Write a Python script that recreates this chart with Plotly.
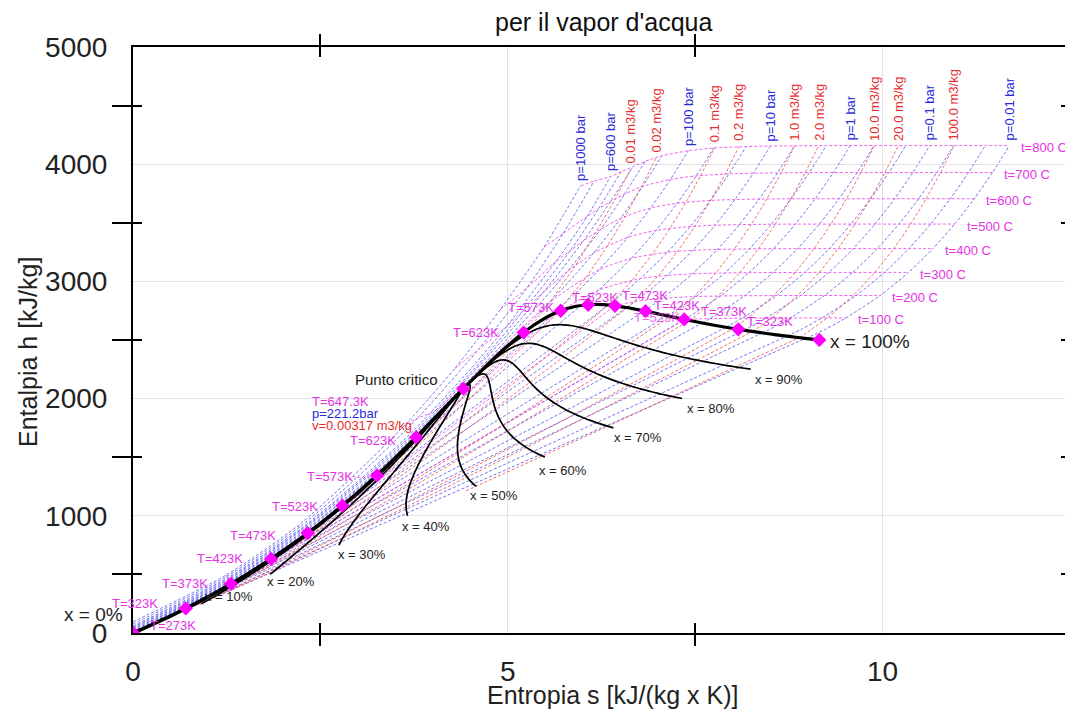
import plotly.graph_objects as go

# ---------------- saturation table (t in C) ----------------
sat_t = [0.01, 5, 10, 15, 20, 25, 30, 35, 40, 45, 50, 60, 70, 80, 90, 100, 110, 120, 130, 140,
         150, 160, 170, 180, 190, 200, 210, 220, 230, 240, 250, 260, 270, 280, 290, 300, 310,
         320, 330, 340, 350, 360, 370, 373.95]
sat_hf = [0.0, 21.02, 42.02, 62.98, 83.91, 104.83, 125.73, 146.63, 167.53, 188.44, 209.34, 251.18,
          293.07, 335.02, 377.04, 419.17, 461.42, 503.81, 546.38, 589.16, 632.18, 675.47, 719.08,
          763.05, 807.43, 852.26, 897.61, 943.55, 990.14, 1037.5, 1085.7, 1135.0, 1185.3, 1236.9,
          1290.0, 1344.8, 1402.0, 1462.2, 1526.2, 1594.5, 1670.9, 1761.9, 1890.7, 2084.3]
sat_hg = [2500.9, 2510.1, 2519.2, 2528.4, 2537.4, 2546.5, 2555.6, 2564.6, 2573.5, 2582.4, 2591.3,
          2608.8, 2626.1, 2643.0, 2659.6, 2675.6, 2691.1, 2705.9, 2720.1, 2733.5, 2745.9, 2757.4,
          2767.9, 2777.2, 2785.3, 2792.0, 2797.3, 2801.0, 2802.9, 2802.9, 2800.9, 2796.6, 2789.7,
          2779.9, 2766.7, 2749.6, 2727.9, 2700.6, 2666.0, 2621.8, 2563.6, 2481.6, 2334.5, 2084.3]
sat_sf = [0.0, 0.0763, 0.1511, 0.2245, 0.2965, 0.3672, 0.4368, 0.5051, 0.5724, 0.6386, 0.7038,
          0.8313, 0.9551, 1.0756, 1.1929, 1.3072, 1.4188, 1.5279, 1.6346, 1.7392, 1.8418, 1.9426,
          2.0417, 2.1392, 2.2355, 2.3305, 2.4245, 2.5177, 2.6101, 2.7020, 2.7935, 2.8849, 2.9765,
          3.0685, 3.1612, 3.2552, 3.3510, 3.4494, 3.5518, 3.6601, 3.7784, 3.9167, 4.1112, 4.4070]
sat_sg = [9.1556, 9.0249, 8.8999, 8.7803, 8.6661, 8.5567, 8.4520, 8.3517, 8.2556, 8.1633, 8.0748,
          7.9082, 7.7540, 7.6111, 7.4781, 7.3541, 7.2381, 7.1291, 7.0264, 6.9293, 6.8371, 6.7491,
          6.6650, 6.5841, 6.5059, 6.4302, 6.3563, 6.2840, 6.2128, 6.1423, 6.0721, 6.0016, 5.9304,
          5.8579, 5.7834, 5.7059, 5.6244, 5.5372, 5.4422, 5.3356, 5.2110, 5.0536, 4.8012, 4.4070]
sat_vf = [0.001000, 0.001000, 0.001000, 0.001001, 0.001002, 0.001003, 0.001004, 0.001006, 0.001008,
          0.001010, 0.001012, 0.001017, 0.001023, 0.001029, 0.001036, 0.001043, 0.001052, 0.001060,
          0.001070, 0.001080, 0.001091, 0.001102, 0.001114, 0.001127, 0.001141, 0.001157, 0.001173,
          0.001190, 0.001209, 0.001229, 0.001252, 0.001276, 0.001303, 0.001333, 0.001366, 0.001404,
          0.001448, 0.001499, 0.001561, 0.001638, 0.001741, 0.001895, 0.002217, 0.003106]
sat_vg = [206.00, 147.03, 106.32, 77.885, 57.762, 43.340, 32.879, 25.205, 19.515, 15.251, 12.026,
          7.6670, 5.0396, 3.4053, 2.3593, 1.6720, 1.2094, 0.89133, 0.66808, 0.50850, 0.39248,
          0.30680, 0.24259, 0.19384, 0.15636, 0.12721, 0.10441, 0.08619, 0.07158, 0.05976, 0.05008,
          0.04220, 0.03564, 0.03017, 0.02557, 0.02167, 0.01835, 0.01549, 0.01300, 0.01080, 0.00881,
          0.00695, 0.00495, 0.003106]

# ---------------- isobars: (t [C] or 'Ts' for saturation, s, h) ----------------
isobar_0_01 = [('Ts', 0.1059, 29.3), ('Ts', 8.9749, 2513.7), (50, 9.2368, 2592.2), (100, 9.5106, 2688.3),
               (200, 9.9665, 2879.8), (300, 10.3440, 3076.6), (400, 10.6704, 3279.7), (500, 10.9605, 3489.2),
               (600, 11.2235, 3705.5), (700, 11.4655, 3928.8), (800, 11.6908, 4159.1)]
isobar_0_02 = [('Ts', 0.2606, 73.4), ('Ts', 8.7237, 2532.9), (50, 8.9169, 2592.1), (100, 9.1907, 2688.0),
               (200, 9.6466, 2879.7), (300, 10.0241, 3076.6), (400, 10.3505, 3279.7), (500, 10.6406, 3489.2),
               (600, 10.9036, 3705.5), (700, 11.1456, 3928.8), (800, 11.3709, 4159.1)]
isobar_0_05 = [('Ts', 0.4763, 137.75), ('Ts', 8.3938, 2560.7), (50, 8.4940, 2592.1), (100, 8.7678, 2687.8),
               (200, 9.2237, 2879.6), (300, 9.6012, 3076.5), (400, 9.9276, 3279.6), (500, 10.2177, 3489.1),
               (600, 10.4807, 3705.4), (700, 10.7227, 3928.7), (800, 10.9480, 4159.0)]
isobar_0_1 = [('Ts', 0.6492, 191.81), ('Ts', 8.1488, 2583.9), (50, 8.1741, 2592.0), (100, 8.4479, 2687.5),
              (200, 8.9038, 2879.5), (300, 9.2813, 3076.5), (400, 9.6077, 3279.6), (500, 9.8978, 3489.1),
              (600, 10.1608, 3705.4), (700, 10.4028, 3928.7), (800, 10.6281, 4159.0)]
isobar_0_2 = [('Ts', 0.8320, 251.42), ('Ts', 7.9073, 2608.9), (100, 8.1263, 2686.2), (200, 8.5839, 2879.0),
              (300, 8.9614, 3076.3), (400, 9.2878, 3279.4), (500, 9.5779, 3489.0), (600, 9.8409, 3705.3),
              (700, 10.0829, 3928.6), (800, 10.3082, 4158.9)]
isobar_0_5 = [('Ts', 1.0912, 340.54), ('Ts', 7.5931, 2645.2), (100, 7.6953, 2682.4), (200, 8.1592, 2877.7),
              (300, 8.5380, 3075.8), (400, 8.8649, 3279.1), (500, 9.1551, 3488.7), (600, 9.4182, 3705.2),
              (700, 9.6602, 3928.5), (800, 9.8855, 4158.8)]
isobar_1 = [('Ts', 1.3028, 417.51), ('Ts', 7.3589, 2674.9), (100, 7.3611, 2675.8), (200, 7.8356, 2875.5),
            (300, 8.2172, 3074.5), (400, 8.5452, 3278.9), (500, 8.8362, 3488.7), (600, 9.0999, 3705.6),
            (700, 9.3424, 3928.9), (800, 9.5682, 4159.2)]
isobar_2 = [('Ts', 1.5302, 504.7), ('Ts', 7.1270, 2706.3), (150, 7.2810, 2769.1), (200, 7.5081, 2870.7),
            (300, 7.8941, 3072.1), (400, 8.2236, 3277.0), (500, 8.5153, 3487.7), (600, 8.7793, 3704.8),
            (700, 9.0221, 3928.2), (800, 9.2479, 4158.4)]
isobar_5 = [('Ts', 1.8604, 640.09), ('Ts', 6.8207, 2748.1), (200, 7.0610, 2855.8), (250, 7.2725, 2961.0),
            (300, 7.4614, 3064.6), (400, 7.7956, 3272.4), (500, 8.0893, 3484.5), (600, 8.3544, 3702.5),
            (700, 8.5978, 3926.4), (800, 8.8240, 4157.0)]
isobar_10 = [('Ts', 2.1381, 762.51), ('Ts', 6.5850, 2777.1), (200, 6.6956, 2828.3), (250, 6.9265, 2943.1),
             (300, 7.1246, 3051.6), (400, 7.4670, 3264.5), (500, 7.7642, 3479.1), (600, 8.0311, 3698.6),
             (700, 8.2755, 3923.0), (800, 8.5024, 4154.8)]
isobar_20 = [('Ts', 2.4470, 908.47), ('Ts', 6.3390, 2798.3), (250, 6.5475, 2903.3), (300, 6.7684, 3024.2),
             (400, 7.1292, 3248.4), (500, 7.4337, 3468.3), (600, 7.7043, 3690.7), (700, 7.9509, 3917.2),
             (800, 8.1791, 4150.1)]
isobar_50 = [(0, 0.0001, 5.0), (100, 1.3038, 422.7), (200, 2.3258, 853.8), ('Ts', 2.9207, 1154.5),
             ('Ts', 5.9737, 2794.2), (300, 6.2110, 2925.7), (400, 6.6483, 3196.7), (500, 6.9781, 3434.7),
             (600, 7.2605, 3666.9), (700, 7.5136, 3900.3), (800, 7.7458, 4137.7)]
isobar_100 = [(0, 0.0003, 10.1), (100, 1.3000, 426.5), (200, 2.3176, 856.0), (300, 3.2275, 1343.0),
              ('Ts', 3.3603, 1407.8), ('Ts', 5.6160, 2725.5), (350, 5.9459, 2924.0), (400, 6.2141, 3097.5),
              (500, 6.5995, 3375.1), (600, 6.9045, 3625.8), (700, 7.1693, 3870.0), (800, 7.4085, 4114.5)]
isobar_200 = [(0, 0.0, 20.0), (100, 1.29, 435.0), (200, 2.30, 864.0), (300, 3.20, 1334.0), (350, 3.64, 1596.0),
              ('Ts', 4.0156, 1827.2), ('Ts', 4.9314, 2411.4), (400, 5.5525, 2816.9), (450, 5.9043, 3061.7),
              (500, 6.1446, 3241.2), (600, 6.5075, 3539.0), (700, 6.7990, 3810.5), (800, 7.0534, 4071.8)]
isobar_300 = [(0, 0.0, 30.0), (100, 1.28, 443.0), (200, 2.28, 871.0), (300, 3.17, 1330.0), (350, 3.54, 1548.0),
              (375, 3.93, 1792.0), (400, 4.476, 2153.0), (450, 5.442, 2821.0), (500, 5.796, 3085.0),
              (600, 6.237, 3443.0), (700, 6.558, 3745.0), (800, 6.831, 4024.0)]
isobar_400 = [(0, 0.0, 40.0), (100, 1.27, 452.0), (200, 2.26, 878.0), (300, 3.12, 1327.0), (350, 3.50, 1540.0),
              (375, 3.829, 1742.6), (400, 4.1145, 1931.4), (450, 4.9447, 2511.8), (500, 5.4744, 2906.5),
              (600, 6.01, 3346.4), (700, 6.37, 3681.0), (800, 6.67, 3978.0)]
isobar_500 = [(0, 0.0, 49.0), (100, 1.265, 461.0), (200, 2.25, 885.0), (300, 3.085, 1324.0), (375, 3.76, 1715.0),
              (400, 4.03, 1895.0), (450, 4.70, 2360.0), (500, 5.22, 2760.0), (600, 5.83, 3260.0),
              (700, 6.21, 3620.0), (800, 6.51, 3935.0)]
isobar_600 = [(0, 0.0, 59.0), (100, 1.26, 470.0), (200, 2.24, 891.0), (300, 3.05, 1322.0), (375, 3.70, 1700.0),
              (400, 3.96, 1874.0), (450, 4.50, 2250.0), (500, 4.99, 2620.0), (550, 5.36, 2935.0),
              (600, 5.65, 3175.0), (700, 6.06, 3555.0), (800, 6.37, 3895.0)]
isobar_800 = [(0, 0.0, 77.0), (100, 1.25, 482.0), (200, 2.22, 903.0), (300, 2.99, 1328.0), (400, 3.79, 1830.0),
              (500, 4.61, 2420.0), (600, 5.25, 2940.0), (700, 5.74, 3410.0), (800, 6.15, 3855.0)]
isobar_1000 = [(0, 0.0, 95.0), (100, 1.24, 494.0), (200, 2.20, 915.0), (300, 2.93, 1335.0), (400, 3.65, 1790.0),
               (500, 4.29, 2255.0), (600, 4.90, 2760.0), (700, 5.48, 3290.0), (800, 5.97, 3815.0)]

isobar_p = [0.01, 0.02, 0.05, 0.1, 0.2, 0.5, 1, 2, 5, 10, 20, 50, 100, 200, 300, 400, 500, 600, 800, 1000]
isobar_pts = [isobar_0_01, isobar_0_02, isobar_0_05, isobar_0_1, isobar_0_2, isobar_0_5, isobar_1, isobar_2,
              isobar_5, isobar_10, isobar_20, isobar_50, isobar_100, isobar_200, isobar_300, isobar_400,
              isobar_500, isobar_600, isobar_800, isobar_1000]
isobar_labels = {1000: 'p=1000 bar', 600: 'p=600 bar', 100: 'p=100 bar', 10: 'p=10 bar', 1: 'p=1 bar',
                 0.1: 'p=0.1 bar', 0.01: 'p=0.01 bar'}

# ---------------- isochores (superheated part, from saturated vapour) ----------------
isochore_0_01 = [(344.6, 5.278, 2595.0), (400, 5.555, 2818.0), (450, 5.73, 2980.0), (500, 5.895, 3128.0),
                 (600, 6.17, 3415.0), (700, 6.43, 3700.0), (800, 6.64, 3960.0)]
isochore_0_02 = [(305, 5.662, 2739.0), (350, 5.85, 2885.0), (400, 6.05, 3040.0), (500, 6.33, 3305.0),
                 (600, 6.565, 3554.0), (700, 6.78, 3805.0), (800, 6.98, 4058.0)]
isochore_0_1 = [(212.3, 6.340, 2798.2), (250, 6.497, 2895.0), (300, 6.664, 3016.0), (400, 6.938, 3242.0),
                (500, 7.174, 3463.0), (600, 7.385, 3686.0), (700, 7.580, 3913.0), (800, 7.762, 4147.0)]
isochore_0_2 = [(178.6, 6.595, 2776.0), (200, 6.682, 2827.0), (300, 7.007, 3048.0), (400, 7.270, 3262.0),
                (500, 7.501, 3476.0), (600, 7.710, 3696.0), (700, 7.904, 3921.0), (800, 8.085, 4153.0)]
isochore_1 = [(116.3, 7.169, 2700.4), (150, 7.317, 2772.0), (200, 7.481, 2869.0), (300, 7.770, 3070.0),
              (400, 8.022, 3276.0), (500, 8.248, 3487.0), (600, 8.455, 3704.0), (700, 8.647, 3927.0),
              (800, 8.827, 4158.0)]
isochore_2 = [(94.6, 7.421, 2667.0), (100, 7.454, 2678.5), (150, 7.637, 2778.0), (200, 7.801, 2874.0),
              (300, 8.090, 3073.0), (400, 8.342, 3278.0), (500, 8.568, 3488.0), (600, 8.775, 3704.6),
              (700, 8.967, 3928.0), (800, 9.147, 4158.3)]
isochore_10 = [(53.9, 8.010, 2598.0), (75, 8.097, 2640.0), (100, 8.197, 2686.5), (200, 8.543, 2879.0),
               (300, 8.833, 3076.0), (400, 9.085, 3279.4), (500, 9.311, 3489.0), (600, 9.518, 3705.3),
               (700, 9.710, 3928.6), (800, 9.890, 4159.0)]
isochore_20 = [(39.6, 8.263, 2572.8), (50, 8.3095, 2592.0), (100, 8.517, 2687.0), (200, 8.863, 2879.3),
               (300, 9.152, 3076.4), (400, 9.405, 3279.5), (500, 9.631, 3489.0), (600, 9.838, 3705.3),
               (700, 10.030, 3928.7), (800, 10.210, 4159.0)]
isochore_100 = [(10.3, 8.893, 2519.8), (50, 9.052, 2592.5), (100, 9.260, 2687.5), (200, 9.606, 2879.5),
                (300, 9.895, 3076.5), (400, 10.147, 3279.6), (500, 10.374, 3489.1), (600, 10.580, 3705.4),
                (700, 10.772, 3928.7), (800, 10.953, 4159.0)]

isochore_v = [0.01, 0.02, 0.1, 0.2, 1.0, 2.0, 10.0, 20.0, 100.0]
isochore_pts = [isochore_0_01, isochore_0_02, isochore_0_1, isochore_0_2, isochore_1, isochore_2,
                isochore_10, isochore_20, isochore_100]
isochore_labels = ['0.01 m3/kg', '0.02 m3/kg', '0.1 m3/kg', '0.2 m3/kg', '1.0 m3/kg', '2.0 m3/kg',
                   '10.0 m3/kg', '20.0 m3/kg', '100.0 m3/kg']

# ---------------- isotherms, quality lines, markers ----------------
isotherm_t = [100, 200, 300, 400, 500, 600, 700, 800]
quality_x = [0.1, 0.2, 0.3, 0.4, 0.5, 0.6, 0.7, 0.8, 0.9]
marker_t = [0.01, 50, 100, 150, 200, 250, 300, 350]
marker_TK = [273, 323, 373, 423, 473, 523, 573, 623]
crit_s, crit_h = 4.4070, 2084.3

# ---------------- styling ----------------
FONT = 'Liberation Sans, Arial, Helvetica, sans-serif'
BLUE_L = 'rgba(70,70,235,0.75)'
RED_L = 'rgba(235,60,60,0.75)'
MAG_L = 'rgba(235,60,235,0.8)'
BLUE_T = '#2b2bd9'
RED_T = '#e62e2e'
MAG_T = '#e633e6'
DASH = '3px,2px'
# the page body adds an 8px offset; the figure is sized so the plot lands where the reference has it
W, H = 1065, 706
ML, MR, MT, MB = 125, 3, 39, 81
XR = [0, 12.5]
YR = [0, 5000]

fig = go.Figure()


def add_line(s, h, color, width=1.0, dash=DASH, shape='linear'):
    line = dict(color=color, width=width, dash=dash, shape=shape)
    if shape == 'spline':
        line['smoothing'] = 0.7
    fig.add_trace(go.Scatter(x=s, y=h, mode='lines', line=line, hoverinfo='skip', showlegend=False))


# isobars
for p, pts in zip(isobar_p, isobar_pts):
    tags = [i for i, q in enumerate(pts) if q[0] == 'Ts']
    if tags:
        iv = tags[1]
        liq, vap = pts[:iv + 1], pts[iv:]
        add_line([q[1] for q in liq], [q[2] for q in liq], BLUE_L)
        add_line([q[1] for q in vap], [q[2] for q in vap], BLUE_L, shape='spline')
    else:
        add_line([q[1] for q in pts], [q[2] for q in pts], BLUE_L, shape='spline')

# isochores
for v, pts in zip(isochore_v, isochore_pts):
    ws, wh = [], []
    for i in range(len(sat_t)):
        if sat_vg[i] > v:
            x = (v - sat_vf[i]) / (sat_vg[i] - sat_vf[i])
            ws.append(sat_sf[i] + x * (sat_sg[i] - sat_sf[i]))
            wh.append(sat_hf[i] + x * (sat_hg[i] - sat_hf[i]))
    ws.append(pts[0][1])
    wh.append(pts[0][2])
    add_line(ws, wh, RED_L)
    add_line([q[1] for q in pts], [q[2] for q in pts], RED_L, shape='spline')

# isotherms
iso_ends = []
for t in isotherm_t:
    pts = []
    for plist in isobar_pts:
        for q in plist:
            if q[0] == t:
                pts.append((q[1], q[2]))
    gpt = None
    if t in sat_t:
        i = sat_t.index(t)
        pts.append((sat_sf[i], sat_hf[i]))
        gpt = (sat_sg[i], sat_hg[i])
        pts.append(gpt)
    pts.sort()
    if gpt is not None:
        k = pts.index(gpt)
        add_line([q[0] for q in pts[:k + 1]], [q[1] for q in pts[:k + 1]], MAG_L)
        add_line([q[0] for q in pts[k:]], [q[1] for q in pts[k:]], MAG_L, shape='spline')
    else:
        add_line([q[0] for q in pts], [q[1] for q in pts], MAG_L, shape='spline')
    iso_ends.append(pts[-1])

# quality lines
q_ends = []
for xq in quality_x:
    qs = [sf + xq * (sg - sf) for sf, sg in zip(sat_sf, sat_sg)]
    qh = [hf + xq * (hg - hf) for hf, hg in zip(sat_hf, sat_hg)]
    add_line(qs, qh, 'black', width=1.7, dash='solid', shape='spline')
    q_ends.append((qs[0], qh[0]))

# saturation lines
add_line(sat_sf, sat_hf, 'black', width=3.6, dash='solid', shape='spline')
add_line(sat_sg, sat_hg, 'black', width=3.2, dash='solid', shape='spline')

# markers
mi = [sat_t.index(t) for t in marker_t]
ms = [sat_sf[i] for i in mi] + [sat_sg[i] for i in mi] + [crit_s]
mh = [sat_hf[i] for i in mi] + [sat_hg[i] for i in mi] + [crit_h]
fig.add_trace(go.Scatter(x=ms, y=mh, mode='markers', marker=dict(symbol='diamond', size=11, color='#ff00ff'),
                         hoverinfo='skip', showlegend=False))

# dummy traces for the crossing-tick axes
for ax in ('2', '3'):
    fig.add_trace(go.Scatter(x=[None], y=[None], xaxis='x' + ax, yaxis='y' + ax, mode='lines',
                             hoverinfo='skip', showlegend=False))


def ann(x, y, text, size=13, color='black', xanchor='left', yanchor='middle', xshift=0, yshift=0,
        angle=0, xref='x', yref='y'):
    fig.add_annotation(x=x, y=y, xref=xref, yref=yref, text=text, showarrow=False,
                       font=dict(family=FONT, size=size, color=color), xanchor=xanchor, yanchor=yanchor,
                       xshift=xshift, yshift=yshift, textangle=angle)


# T labels on the liquid line
liq_dx = [15, -26, -21, -26, -30, -22, -22, -18]
liq_dy = [8, 5, 0, 0, -2, -1, -1, -3]
for k, i in enumerate(mi):
    ann(sat_sf[i], sat_hf[i], 'T=%dK' % marker_TK[k], color=MAG_T,
        xanchor='left' if k == 0 else 'right', xshift=liq_dx[k], yshift=liq_dy[k])

# T labels on the vapour line
vap_dx = [None, 7, 15, 6, 5, -18, -5, -23]
vap_dy = [None, 8, 8, 6, 10, 7, 3, 0]
vap_anchor = [None, 'left', 'left', 'left', 'left', 'left', 'right', 'right']
for k, i in enumerate(mi):
    if k == 0:
        continue
    ann(sat_sg[i], sat_hg[i], 'T=%dK' % marker_TK[k], color=MAG_T, xanchor=vap_anchor[k],
        xshift=vap_dx[k], yshift=vap_dy[k])
ann(6.653, 2688, 'T=523K', color='rgba(230,51,230,0.75)')

# quality labels
q_dx = [1, -5, -3, -8, -8, -8, -1, 3, 2]
q_dy = [7, -7, -9, -11, -9, -13, -10, -10, -10]
for k, (xq, (qs0, qh0)) in enumerate(zip(quality_x, q_ends)):
    ann(qs0, qh0, 'x = %d%%' % round(xq * 100), color='#222222', xshift=q_dx[k], yshift=q_dy[k])

ann(sat_sf[0], sat_hf[0], 'x = 0%', size=19, color='#222222', xanchor='right', xshift=-8, yshift=19)
ann(sat_sg[0], sat_hg[0], 'x = 100%', size=19, color='#222222', xanchor='left', xshift=9, yshift=-2)

# critical point
ann(crit_s, crit_h, 'Punto critico', size=15, color='#222222', xanchor='right', xshift=-23, yshift=9)
ann(crit_s, crit_h, 'T=647.3K', color=MAG_T, xanchor='left', xshift=-153, yshift=-13)
ann(crit_s, crit_h, 'p=221.2bar', color=BLUE_T, xanchor='left', xshift=-153, yshift=-25)
ann(crit_s, crit_h, 'v=0.00317 m3/kg', color=RED_T, xanchor='left', xshift=-153, yshift=-37)

# isotherm labels
for t, (es, eh) in zip(isotherm_t, iso_ends):
    ann(es, eh, 't=%d C' % t, color=MAG_T, xanchor='left', xshift=10, yshift=-2)

# isobar labels
for p, pts in zip(isobar_p, isobar_pts):
    if p in isobar_labels:
        ann(pts[-1][1], pts[-1][2], isobar_labels[p], color=BLUE_T, xanchor='center', yanchor='bottom',
            yshift=3, angle=-90)
# isochore labels
for lab, pts in zip(isochore_labels, isochore_pts):
    ann(pts[-1][1], pts[-1][2], lab, color=RED_T, xanchor='center', yanchor='bottom', yshift=3, angle=-90)

# titles (paper coordinates; targets are page pixels)
PW, PH = W - ML - MR, H - MT - MB
OFF = 8


def px2paper(px, py):
    return (px - OFF - ML) / PW, (H - MB - (py - OFF)) / PH


tx, ty = px2paper(604, 22)
ann(tx, ty, "per il vapor d'acqua", size=25, color='#111111', xanchor='center', xref='paper', yref='paper')
tx, ty = px2paper(612, 695)
ann(tx, ty, 'Entropia s [kJ/(kg x K)]', size=25, color='#222222', xanchor='center', xref='paper', yref='paper')
tx, ty = px2paper(28, 352)
ann(tx, ty, 'Entalpia h [kJ/kg]', size=25, color='#222222', xanchor='center', xref='paper', yref='paper',
    angle=-90)

GRID = '#e2e2e2'
tick_common = dict(showgrid=False, zeroline=False, showline=False, showticklabels=False,
                   tickcolor='black', tickwidth=2, automargin=False)
fig.update_layout(
    width=W, height=H, margin=dict(l=ML, r=MR, t=MT, b=MB, autoexpand=False),
    paper_bgcolor='white', plot_bgcolor='white', showlegend=False,
    font=dict(family=FONT),
    xaxis=dict(range=XR, tickvals=[0, 5, 10], ticks='', showgrid=True, gridcolor=GRID, gridwidth=1,
               zeroline=False, showline=True, linecolor='black', linewidth=2, mirror=True, automargin=False,
               tickfont=dict(size=28, color='#222222'), ticklabelstandoff=12),
    yaxis=dict(range=YR, tickvals=[0, 1000, 2000, 3000, 4000, 5000], ticks='', showgrid=True, gridcolor=GRID,
               gridwidth=1, zeroline=False, showline=True, linecolor='black', linewidth=2, mirror=True,
               automargin=False, tickfont=dict(size=28, color='#222222'), ticklabelstandoff=18),
    xaxis2=dict(overlaying='x', anchor='y', range=XR, tickvals=[2.5, 7.5], ticks='outside', ticklen=12,
                mirror='ticks', **tick_common),
    xaxis3=dict(overlaying='x', anchor='y', range=XR, tickvals=[2.5, 7.5], ticks='inside', ticklen=10,
                mirror='ticks', **tick_common),
    yaxis2=dict(overlaying='y', anchor='x', range=YR, tickvals=[500, 1500, 2500, 3500, 4500], ticks='outside',
                ticklen=20, mirror='ticks', **tick_common),
    yaxis3=dict(overlaying='y', anchor='x', range=YR, tickvals=[500, 1500, 2500, 3500, 4500], ticks='inside',
                ticklen=9, mirror='ticks', **tick_common),
)

fig.write_html('out.html')
